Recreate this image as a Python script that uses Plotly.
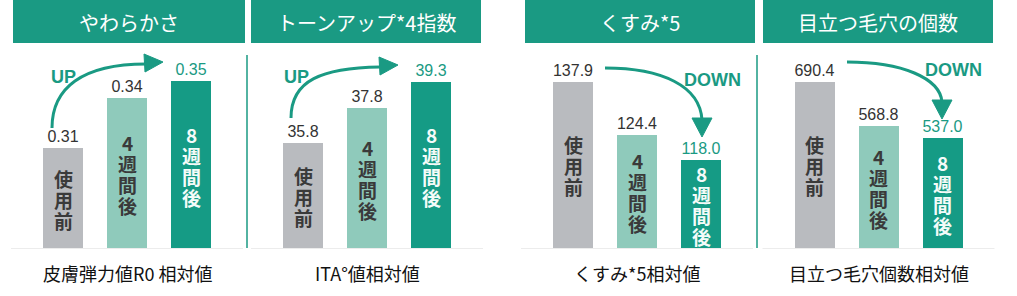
import plotly.graph_objects as go

W, H = 1017, 296

# ---- data ----
titles = ["やわらかさ", "トーンアップ*4指数", "くすみ*5", "目立つ毛穴の個数"]
bottom_labels = ["皮膚弾力値R0 相対値", "ITA°値相対値", "くすみ*5相対値", "目立つ毛穴個数相対値"]
categories = ["使用前", "4週間後", "8週間後"]
softness = [0.31, 0.34, 0.35]
tone_up = [35.8, 37.8, 39.3]
dullness = [137.9, 124.4, 118.0]
pores = [690.4, 568.8, 537.0]
value_text = [["0.31", "0.34", "0.35"], ["35.8", "37.8", "39.3"],
              ["137.9", "124.4", "118.0"], ["690.4", "568.8", "537.0"]]
trend_words = ["UP", "UP", "DOWN", "DOWN"]
series = [softness, tone_up, dullness, pores]

# ---- style / layout ----
TEAL = "#1a9a83"
BAR_COLORS = ["#b9bbbf", "#8fcabb", "#159b85"]
LABEL_COLORS = ["#333333", "#333333", TEAL]
INNER_COLORS = ["#3a3a3a", "#3a3a3a", "#f4fbf9"]
y_ranges = [[0.25, 0.3688], [29.8, 41.11], [95.55, 146.05], [235.7, 778.0]]
x_dom_px = [(31, 223), (271, 463), (541, 733), (782.5, 974.5)]
header_px = [(13, 245), (251, 481), (525, 755), (763, 993)]
Y_BOT, Y_TOP = 248, 50
CHAR_STEP = 21


def px(x):
    return x / W


def py(y):
    return 1 - y / H


fig = go.Figure()
shapes = []
annotations = []

for i, vals in enumerate(series):
    xa = "x" if i == 0 else f"x{i+1}"
    ya = "y" if i == 0 else f"y{i+1}"
    fig.add_trace(go.Bar(
        x=[0, 1, 2], y=vals, width=0.625,
        marker=dict(color=BAR_COLORS, line=dict(width=0)),
        text=value_text[i], textposition="outside", cliponaxis=False,
        constraintext="none",
        textfont=dict(family="Liberation Sans, Arial", size=16, color=LABEL_COLORS),
        xaxis=xa, yaxis=ya, showlegend=False, hoverinfo="skip",
    ))
    d0, d1 = x_dom_px[i]
    lay_x = dict(domain=[px(d0), px(d1)], range=[-0.5, 2.5], visible=False,
                 anchor=ya, fixedrange=True)
    lay_y = dict(domain=[py(Y_BOT), py(Y_TOP)], range=y_ranges[i], visible=False,
                 anchor=xa, fixedrange=True)
    key = "" if i == 0 else str(i + 1)
    fig.update_layout(**{f"xaxis{key}": lay_x, f"yaxis{key}": lay_y})

    # vertical (stacked) text inside the bars
    for j, cat in enumerate(categories):
        mid = (y_ranges[i][0] + vals[j]) / 2
        chars = list(cat)
        n = len(chars)
        for k, ch in enumerate(chars):
            annotations.append(dict(
                x=j, y=mid, xref=xa, yref=ya, showarrow=False,
                text=f"<b>{ch}</b>",
                font=dict(family="Noto Sans CJK JP", size=19, color=INNER_COLORS[j]),
                yanchor="middle", xanchor="center",
                yshift=((n - 1) / 2 - k) * CHAR_STEP - 1,
            ))

    # headers
    h0, h1 = header_px[i]
    shapes.append(dict(type="rect", xref="paper", yref="paper",
                       x0=px(h0), x1=px(h1), y0=py(43), y1=py(0),
                       fillcolor=TEAL, line=dict(width=0), layer="below"))
    annotations.append(dict(x=px((h0 + h1) / 2), y=py(22), xref="paper", yref="paper",
                            text=titles[i], showarrow=False,
                            font=dict(family="Noto Sans CJK JP", size=20, color="white"),
                            xanchor="center", yanchor="middle"))
    # bottom labels
    annotations.append(dict(x=1, y=py(273), xref=xa, yref="paper",
                            text=bottom_labels[i], showarrow=False,
                            font=dict(family="Noto Sans CJK JP", size=18, color="#111111"),
                            xanchor="center", yanchor="middle"))
    # faint baseline
    shapes.append(dict(type="line", xref="paper", yref="paper",
                       x0=px(d0 - 20), x1=px(d1 + 20), y0=py(248.5), y1=py(248.5),
                       line=dict(color="#ececec", width=1)))

# dividers
for xd in (247, 757):
    shapes.append(dict(type="line", xref="paper", yref="paper",
                       x0=px(xd), x1=px(xd), y0=py(55), y1=py(248),
                       line=dict(color=TEAL, width=1.5)))


def path(pts, close=False, cubic=False):
    if cubic:
        (x0, y0), (c1x, c1y), (c2x, c2y), (x1, y1) = pts
        return (f"M {px(x0)},{py(y0)} C {px(c1x)},{py(c1y)} {px(c2x)},{py(c2y)} "
                f"{px(x1)},{py(y1)}")
    s = "M " + " L ".join(f"{px(x)},{py(y)}" for x, y in pts)
    return s + (" Z" if close else "")


arrow_curves = [
    [(52, 128), (52, 88), (82, 64), (146, 64)],
    [(291, 118), (291, 80), (322, 68), (380, 67)],
    [(605, 68), (662, 68), (700, 86), (702, 120)],
    [(847, 62), (902, 62), (940, 78), (942, 102)],
]
arrow_heads = [
    [(163, 62), (144, 54), (145, 72)],
    [(398, 65), (379, 57), (380, 75)],
    [(702, 137), (692, 118), (712, 118)],
    [(942, 119), (932, 100), (952, 100)],
]
for c in arrow_curves:
    shapes.append(dict(type="path", xref="paper", yref="paper", path=path(c, cubic=True),
                       line=dict(color=TEAL, width=3)))
for hd in arrow_heads:
    shapes.append(dict(type="path", xref="paper", yref="paper", path=path(hd, close=True),
                       fillcolor=TEAL, line=dict(color=TEAL, width=1)))

word_pos = [(63, 77), (296, 77), (712, 80), (953, 70)]
for (x, y), w in zip(word_pos, trend_words):
    annotations.append(dict(x=px(x), y=py(y), xref="paper", yref="paper", text=f"<b>{w}</b>",
                            showarrow=False, xanchor="center", yanchor="middle",
                            font=dict(family="Liberation Sans, Arial", size=18, color=TEAL)))

fig.update_layout(
    width=W, height=H, autosize=False,
    margin=dict(l=0, r=0, t=0, b=0),
    paper_bgcolor="white", plot_bgcolor="rgba(0,0,0,0)",
    shapes=shapes, annotations=annotations, bargap=0,
)

fig.write_html("out.html")
